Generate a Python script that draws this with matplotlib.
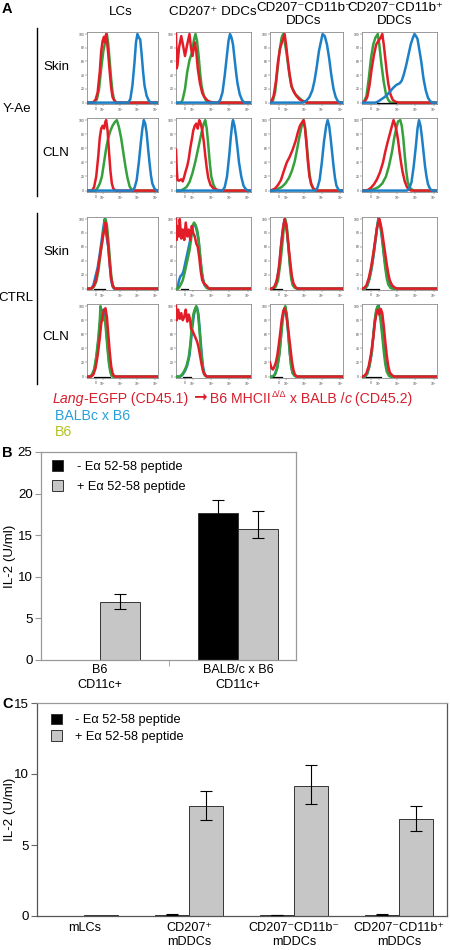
import matplotlib
matplotlib.use('Agg')
import matplotlib.pyplot as plt
from matplotlib.patches import Patch
from matplotlib.text import Annotation

plt.rcParams['font.family'] = ['Liberation Sans', 'DejaVu Sans']
plt.rcParams['mathtext.fontset'] = 'custom'
plt.rcParams['mathtext.rm'] = 'Liberation Sans'
plt.rcParams['mathtext.it'] = 'Liberation Sans:italic'

# ---------------- data: panel A histograms (x in % of axis width, y in % of max) -------------
COLUMN_HEADERS = ["LCs", "CD207\u207a DDCs", "CD207\u207bCD11b\u207b\nDDCs", "CD207\u207bCD11b\u207a\nDDCs"]
ROW_LABELS = ["Skin", "CLN", "Skin", "CLN"]
GROUP_LABELS = ["Y-Ae", "CTRL"]
HIST_XTICKS = [12, 22, 47, 71, 96]
HIST_XTICKLABELS = ["0", r"$10^2$", r"$10^3$", r"$10^4$", r"$10^5$"]
HIST_YTICKS = [0, 20, 40, 60, 80, 100]

YAE_SKIN_LCS = dict(
    green=[(0,0),(10,0),(14,5),(17,20),(20,50),(23,75),(26,90),(28,100),(30,85),(32,60),(34,35),(36,15),(38,5),(41,0),(100,0)],
    red=[(0,0),(8,0),(12,4),(15,15),(18,45),(20,75),(22,90),(24,96),(25,88),(27,100),(28,92),(30,70),(32,45),(34,22),(36,8),(39,2),(42,0),(100,0)],
    blue=[(0,0),(58,0),(61,5),(64,25),(67,60),(69,88),(71,100),(73,95),(75,92),(77,70),(79,45),(81,25),(84,10),(87,3),(90,0),(100,0)])
YAE_SKIN_CD207 = dict(
    green=[(0,0),(7,0),(9,5),(12,20),(15,45),(18,62),(21,72),(24,92),(26,100),(28,90),(30,70),(32,45),(34,25),(37,10),(40,3),(44,0),(100,0)],
    red=[(0,100),(1,50),(2,55),(4,80),(7,97),(10,80),(12,68),(15,85),(18,100),(20,80),(22,68),(25,88),(27,75),(29,50),(32,28),(35,14),(38,8),(42,3),(46,1),(50,0),(100,0)],
    blue=[(0,0),(56,0),(59,4),(62,15),(65,40),(68,70),(70,90),(72,100),(74,95),(76,85),(78,65),(80,45),(82,28),(85,12),(88,4),(91,0),(100,0)])
YAE_SKIN_DN = dict(
    green=[(0,0),(4,3),(7,15),(10,45),(13,75),(16,95),(18,100),(20,90),(23,70),(26,45),(29,25),(32,18),(35,12),(39,8),(43,4),(48,1),(52,0),(100,0)],
    red=[(0,0),(2,2),(5,10),(8,30),(11,60),(14,80),(17,90),(20,100),(22,85),(24,65),(27,40),(30,22),(33,15),(36,10),(40,5),(45,2),(50,0),(100,0)],
    blue=[(0,0),(45,0),(50,3),(54,8),(58,18),(61,32),(64,52),(67,75),(70,90),(72,100),(75,97),(78,85),(81,65),(84,40),(87,20),(90,8),(93,2),(96,0),(100,0)])
YAE_SKIN_DP = dict(
    green=[(0,0),(3,2),(6,10),(9,35),(12,65),(15,85),(18,95),(21,100),(23,85),(26,55),(29,30),(32,12),(35,4),(38,0),(100,0)],
    red=[(0,0),(4,2),(7,8),(10,25),(13,50),(16,70),(19,85),(22,90),(25,95),(27,100),(29,85),(31,65),(33,45),(35,28),(38,12),(41,4),(45,1),(50,0),(100,0)],
    blue=[(0,0),(18,0),(22,2),(26,5),(30,8),(34,12),(38,17),(42,22),(46,26),(50,28),(53,32),(56,42),(59,55),(62,70),(65,85),(68,95),(70,100),(72,97),(74,93),(76,80),(79,60),(82,35),(85,18),(88,7),(91,2),(94,0),(100,0)],
    black=[(20,0),(45,0)])

YAE_CLN_LCS = dict(
    green=[(0,0),(12,0),(15,4),(18,10),(21,20),(24,40),(27,60),(30,75),(33,85),(36,92),(39,97),(42,100),(45,90),(48,75),(51,55),(54,35),(57,18),(60,6),(63,1),(66,0),(100,0)],
    red=[(0,0),(7,0),(10,5),(13,20),(16,50),(18,75),(20,88),(22,92),(24,88),(26,98),(27,100),(29,85),(31,55),(33,28),(35,10),(37,3),(40,0),(100,0)],
    blue=[(0,0),(64,0),(67,4),(70,15),(73,40),(76,70),(78,88),(80,100),(82,95),(84,82),(86,60),(88,40),(90,22),(92,10),(95,3),(98,0),(100,0)])
YAE_CLN_CD207 = dict(
    green=[(0,0),(6,0),(10,2),(14,5),(18,12),(22,25),(26,42),(30,62),(34,82),(37,95),(39,100),(41,88),(43,65),(45,40),(47,20),(50,8),(53,2),(56,0),(100,0)],
    red=[(0,58),(1,30),(2,15),(4,14),(7,16),(9,13),(11,20),(13,28),(15,35),(17,45),(19,60),(21,72),(23,85),(25,92),(27,95),(29,88),(31,100),(33,95),(35,85),(37,70),(39,50),(41,32),(43,18),(46,8),(50,3),(55,1),(60,0),(100,0)],
    blue=[(0,0),(62,0),(65,5),(68,20),(71,50),(73,75),(75,95),(76,100),(78,92),(80,78),(82,60),(84,40),(87,20),(90,7),(93,2),(96,0),(100,0)])
YAE_CLN_DN = dict(
    green=[(0,0),(5,0),(10,2),(16,5),(21,10),(26,18),(30,28),(34,42),(37,58),(40,75),(43,90),(46,100),(48,90),(50,70),(52,45),(54,25),(56,10),(59,3),(62,0),(100,0)],
    red=[(0,0),(3,1),(7,3),(11,8),(15,15),(19,28),(23,40),(27,48),(31,58),(35,70),(38,82),(41,92),(44,97),(46,100),(48,88),(50,65),(52,40),(54,20),(57,8),(60,2),(64,0),(100,0)],
    blue=[(0,0),(62,0),(65,4),(68,15),(71,40),(74,70),(77,92),(79,100),(81,92),(83,75),(85,55),(87,35),(89,18),(91,7),(94,1),(97,0),(100,0)])
YAE_CLN_DP = dict(
    green=[(0,0),(10,0),(16,2),(22,5),(27,10),(32,20),(36,35),(40,55),(43,75),(46,90),(48,98),(51,100),(53,92),(55,75),(57,50),(59,28),(61,12),(64,4),(67,1),(70,0),(100,0)],
    red=[(0,0),(4,0),(8,1),(12,4),(16,9),(20,16),(24,26),(28,40),(31,55),(34,68),(37,80),(40,92),(42,100),(44,94),(46,85),(48,72),(50,55),(52,40),(54,27),(57,13),(60,5),(63,1),(66,0),(100,0)],
    blue=[(0,0),(60,0),(63,3),(66,12),(69,35),(72,65),(74,88),(76,100),(78,92),(80,75),(82,55),(84,35),(86,20),(88,9),(91,2),(94,0),(100,0)])

CTRL_SKIN_LCS = dict(
    blue=[(0,0),(6,0),(9,5),(12,18),(15,30),(18,50),(21,72),(23,88),(25,100),(27,80),(28,72),(30,60),(32,35),(34,12),(36,3),(38,0),(100,0)],
    green=[(0,0),(7,0),(10,3),(13,10),(16,25),(19,50),(22,72),(24,88),(26,100),(28,92),(30,70),(32,45),(34,20),(36,6),(38,1),(40,0),(100,0)],
    red=[(0,0),(6,0),(9,3),(12,10),(15,25),(18,45),(21,65),(23,78),(25,88),(26,95),(27,90),(28,80),(30,60),(32,35),(34,15),(36,5),(38,1),(40,0),(100,0)],
    black=[(10,0),(25,0)])
CTRL_SKIN_CD207 = dict(
    blue=[(0,0),(2,0),(4,12),(6,18),(8,20),(10,25),(12,35),(14,45),(16,55),(18,65),(20,75),(22,88),(24,92),(26,90),(28,82),(30,70),(32,48),(34,25),(36,12),(38,5),(41,1),(44,0),(100,0)],
    green=[(0,0),(3,0),(6,5),(9,12),(12,25),(15,40),(18,55),(20,70),(22,90),(24,95),(26,92),(28,85),(30,72),(32,50),(34,28),(36,14),(38,6),(41,1),(44,0),(100,0)],
    red=[(0,100),(1,70),(2,90),(4,75),(5,100),(7,72),(9,85),(11,70),(13,95),(15,75),(17,85),(19,70),(21,90),(23,80),(25,75),(27,65),(29,60),(31,45),(33,25),(35,12),(37,8),(39,6),(41,4),(43,1),(45,0),(100,0)],
    black=[(6,0),(16,0)])
CTRL_SKIN_DN = dict(
    blue=[(0,0),(4,0),(7,4),(10,15),(13,35),(15,60),(17,80),(19,95),(21,98),(23,85),(25,62),(27,40),(29,20),(31,8),(34,2),(37,0),(100,0)],
    green=[(0,0),(5,0),(8,3),(11,12),(14,35),(17,65),(19,88),(21,100),(23,90),(25,65),(27,35),(29,15),(31,5),(34,1),(37,0),(100,0)],
    red=[(0,0),(3,0),(6,3),(9,10),(12,28),(14,50),(16,70),(18,88),(20,100),(22,92),(24,75),(26,55),(28,35),(30,18),(32,8),(35,2),(38,0),(100,0)],
    black=[(4,0),(16,0)])
CTRL_SKIN_DP = dict(
    blue=[(0,0),(4,0),(7,4),(10,14),(13,30),(16,52),(19,78),(21,95),(22,102),(24,92),(26,78),(28,60),(30,42),(32,28),(34,15),(36,8),(39,2),(42,0),(100,0)],
    green=[(0,0),(4,0),(7,5),(10,15),(13,32),(16,55),(19,80),(21,95),(23,100),(25,90),(27,72),(29,50),(31,30),(33,15),(35,6),(38,1),(40,0),(100,0)],
    red=[(0,0),(3,1),(6,5),(9,15),(12,30),(15,50),(18,72),(20,88),(22,95),(23,100),(25,92),(27,80),(29,65),(31,50),(33,35),(35,22),(37,12),(40,5),(43,2),(47,0),(100,0)],
    black=[(5,0),(23,0)])

CTRL_CLN_LCS = dict(
    blue=[(0,0),(5,0),(8,3),(11,12),(14,32),(17,60),(19,85),(21,95),(23,88),(25,90),(27,70),(29,45),(31,22),(33,8),(35,2),(37,0),(100,0)],
    green=[(0,0),(4,0),(7,3),(10,10),(13,28),(16,55),(18,80),(19,100),(21,88),(23,80),(25,85),(27,62),(29,38),(31,18),(33,6),(35,1),(37,0),(100,0)],
    red=[(0,0),(6,0),(9,3),(12,12),(15,30),(18,55),(20,75),(22,85),(24,95),(26,97),(28,85),(30,60),(32,35),(34,15),(36,5),(38,1),(40,0),(100,0)],
    black=[(10,0),(32,0)])
CTRL_CLN_CD207 = dict(
    blue=[(0,0),(6,0),(9,3),(12,8),(15,16),(18,30),(20,50),(22,72),(24,88),(26,97),(28,98),(30,88),(32,62),(34,35),(36,14),(38,4),(40,1),(42,0),(100,0)],
    green=[(0,0),(5,0),(8,3),(11,8),(14,15),(17,28),(19,45),(21,70),(23,88),(25,95),(27,100),(29,92),(31,70),(33,42),(35,18),(37,5),(39,1),(41,0),(100,0)],
    red=[(0,100),(1,80),(3,95),(5,82),(7,90),(9,80),(11,85),(13,95),(15,78),(17,88),(19,80),(20,68),(22,65),(24,60),(26,55),(28,50),(30,42),(32,30),(34,18),(36,8),(38,3),(41,0),(100,0)],
    black=[(9,0),(20,0)])
CTRL_CLN_DN = dict(
    blue=[(0,0),(4,0),(7,4),(10,14),(13,35),(15,58),(17,80),(19,93),(21,96),(23,85),(25,60),(27,35),(29,15),(31,5),(34,1),(36,0),(100,0)],
    green=[(0,0),(4,0),(7,3),(10,12),(13,32),(15,55),(17,78),(19,95),(21,100),(23,88),(25,62),(27,35),(29,15),(31,5),(34,1),(36,0),(100,0)],
    red=[(0,20),(2,12),(4,10),(6,14),(8,20),(10,30),(12,45),(14,62),(16,80),(18,92),(20,97),(22,90),(24,75),(26,58),(28,40),(30,22),(32,10),(34,3),(37,0),(100,0)],
    black=[(4,0),(16,0)])
CTRL_CLN_DP = dict(
    blue=[(0,0),(4,0),(7,4),(10,15),(13,34),(15,56),(17,78),(19,92),(21,99),(22,102),(24,90),(26,75),(28,55),(30,35),(32,18),(34,7),(37,1),(39,0),(100,0)],
    green=[(0,0),(4,0),(7,5),(10,16),(13,35),(15,58),(17,80),(19,95),(21,100),(23,92),(25,78),(27,58),(29,36),(31,18),(33,7),(36,1),(38,0),(100,0)],
    red=[(0,0),(3,1),(6,5),(9,15),(12,32),(15,55),(17,75),(19,88),(21,95),(23,88),(25,96),(27,90),(29,72),(31,50),(33,30),(35,15),(37,6),(40,2),(43,0),(100,0)],
    black=[(5,0),(25,0)])

HIST_GRID = [
    [YAE_SKIN_LCS, YAE_SKIN_CD207, YAE_SKIN_DN, YAE_SKIN_DP],
    [YAE_CLN_LCS, YAE_CLN_CD207, YAE_CLN_DN, YAE_CLN_DP],
    [CTRL_SKIN_LCS, CTRL_SKIN_CD207, CTRL_SKIN_DN, CTRL_SKIN_DP],
    [CTRL_CLN_LCS, CTRL_CLN_CD207, CTRL_CLN_DN, CTRL_CLN_DP],
]

# ---------------- data: panel B ----------------
B_CATEGORIES = ["B6\nCD11c+", "BALB/c x B6\nCD11c+"]
B_MINUS = [0.05, 17.7]
B_MINUS_ERR_LO = [0.0, 1.5]
B_MINUS_ERR_HI = [0.0, 1.5]
B_PLUS = [6.94, 15.7]
B_PLUS_ERR_LO = [0.85, 1.07]
B_PLUS_ERR_HI = [1.04, 2.19]
B_YTICKS = [0, 5, 10, 15, 20, 25]

# ---------------- data: panel C ----------------
C_CATEGORIES = ["mLCs", "CD207\u207a\nmDDCs", "CD207\u207bCD11b\u207b\nmDDCs", "CD207\u207bCD11b\u207a\nmDDCs"]
C_MINUS = [0.0, 0.06, 0.05, 0.06]
C_MINUS_ERR = [0.0, 0.1, 0.03, 0.1]
C_PLUS = [0.07, 7.78, 9.17, 6.85]
C_PLUS_ERR_LO = [0.0, 1.04, 1.28, 0.83]
C_PLUS_ERR_HI = [0.0, 1.04, 1.43, 0.9]
C_YTICKS = [0, 5, 10, 15]

LEGEND_LABELS = ["- E\u03b1 52-58 peptide", "+ E\u03b1 52-58 peptide"]

# ---------------- styling ----------------
W, H = 450, 950
RED = '#e31d28'
GREEN = '#36a03c'
BLUE = '#1d7fc6'
GRAY_BAR = '#c6c6c6'
LBL = 9.6    # main label size
TCK = 9.6    # bar-chart tick size
CAT = 9.1    # category label size
LEG = 9.2    # legend size

fig = plt.figure(figsize=(W / 100, H / 100), dpi=100)


def px_axes(l, t, r, b):
    return fig.add_axes([l / W, 1 - b / H, (r - l) / W, (b - t) / H])


def ftext(x, y, s, **kw):
    return fig.text(x / W, 1 - y / H, s, **kw)


def chain(prev, s, dy=0.0, **kw):
    a = Annotation(s, xy=(1, 0), xycoords=prev, xytext=(0, dy), textcoords='offset points',
                   ha='left', va='bottom', **kw)
    fig.add_artist(a)
    return a


# ---------------- Panel A ----------------
col_l = [87, 176, 270, 362]
col_r = [158, 251, 343, 437]
row_t = [32, 118, 217, 304]
row_b = [104, 192, 290, 378]
colors = {'red': RED, 'green': GREEN, 'blue': BLUE}

for ri in range(4):
    ctrl = ri >= 2
    order = ['blue', 'green', 'red'] if ctrl else ['green', 'red', 'blue']
    for ci in range(4):
        ax = px_axes(col_l[ci], row_t[ri], col_r[ci], row_b[ri])
        data = HIST_GRID[ri][ci]
        for z, key in enumerate(order):
            xs = [p[0] for p in data[key]]
            ys = [p[1] for p in data[key]]
            ax.plot(xs, ys, color=colors[key], lw=1.8, zorder=2 + z, solid_joinstyle='round')
        if 'black' in data:
            xs = [p[0] for p in data['black']]
            ys = [p[1] for p in data['black']]
            ax.plot(xs, ys, color='black', lw=0.9, zorder=10)
        ax.set_xlim(0, 100)
        ax.set_ylim(-2, 103)
        ax.set_xticks(HIST_XTICKS)
        ax.set_xticklabels(HIST_XTICKLABELS)
        ax.set_yticks(HIST_YTICKS)
        ax.set_yticklabels([str(v) for v in HIST_YTICKS])
        ax.tick_params(labelsize=2.4, length=1.2, width=0.3, pad=0.8, colors='#444')
        for s in ax.spines.values():
            s.set_color('#8a8a8a')
            s.set_linewidth(0.6)

# column headers
ftext(121, 12, COLUMN_HEADERS[0], ha='center', va='center', fontsize=LBL)
ftext(213, 12, COLUMN_HEADERS[1], ha='center', va='center', fontsize=LBL)
ftext(304, 14.5, COLUMN_HEADERS[2], ha='center', va='center', fontsize=LBL, linespacing=1.15)
ftext(395, 14.5, COLUMN_HEADERS[3], ha='center', va='center', fontsize=LBL, linespacing=1.15)

# row labels
for y, lab in zip([67, 153, 252, 337], ROW_LABELS):
    ftext(56, y, lab, ha='center', va='center', fontsize=LBL)
ftext(17, 109, GROUP_LABELS[0], ha='center', va='center', fontsize=LBL)
ftext(16, 298, GROUP_LABELS[1], ha='center', va='center', fontsize=LBL)
fig.add_artist(plt.Line2D([37 / W, 37 / W], [1 - 28 / H, 1 - 196 / H], color='black', lw=1.0))
fig.add_artist(plt.Line2D([37 / W, 37 / W], [1 - 213 / H, 1 - 384 / H], color='black', lw=1.0))

ftext(2, 9, "A", ha='left', va='center', fontsize=10.5, fontweight='bold')

# legend text for A (chained pieces)
LEG_RED = '#d81e2c'
FS = 10.2
t0 = ftext(53, 406, "Lang", ha='left', va='bottom', fontsize=FS, color=LEG_RED, style='italic')
t1 = chain(t0, "-EGFP (CD45.1) ", fontsize=FS, color=LEG_RED)
t2 = chain(t1, "\u279e", dy=-0.5, fontsize=12, color=LEG_RED, family='DejaVu Sans')
t3 = chain(t2, " B6 MHCII", dy=0.5, fontsize=FS, color=LEG_RED)
t4 = chain(t3, "\u0394/\u0394", dy=5.0, fontsize=6.5, color=LEG_RED)
t5 = chain(t4, " x BALB /", dy=-5.0, fontsize=FS, color=LEG_RED)
t6 = chain(t5, "c", fontsize=FS, color=LEG_RED, style='italic')
t7 = chain(t6, " (CD45.2)", fontsize=FS, color=LEG_RED)
ftext(55, 416, "BALBc x B6", ha='left', va='center', fontsize=FS, color='#2aa0da')
ftext(55, 432, "B6", ha='left', va='center', fontsize=FS, color='#b3c220')

# ---------------- Panel B ----------------
axb = px_axes(41, 452, 296, 660)
wb = 0.29
xb = list(range(len(B_CATEGORIES)))
axb.bar([x - wb for x in xb], B_MINUS, wb, align='edge', color='black', edgecolor='#333', lw=0.7, zorder=2)
axb.bar(xb, B_PLUS, wb, align='edge', color=GRAY_BAR, edgecolor='#333', lw=0.7, zorder=2)
for i, x in enumerate(xb):
    if B_MINUS_ERR_HI[i] > 0:
        axb.errorbar(x - wb / 2, B_MINUS[i], yerr=[[B_MINUS_ERR_LO[i]], [B_MINUS_ERR_HI[i]]], fmt='none',
                     ecolor='black', elinewidth=0.8, capsize=4, capthick=0.8, zorder=3)
    if B_PLUS_ERR_HI[i] > 0:
        axb.errorbar(x + wb / 2, B_PLUS[i], yerr=[[B_PLUS_ERR_LO[i]], [B_PLUS_ERR_HI[i]]], fmt='none',
                     ecolor='black', elinewidth=0.8, capsize=4, capthick=0.8, zorder=3)
axb.set_xlim(-0.4275, 1.42)
axb.set_ylim(0, 25)
axb.set_yticks(B_YTICKS)
axb.set_xticks(xb)
axb.set_xticklabels(B_CATEGORIES, linespacing=1.3)
axb.set_xticks([0.5], minor=True)
axb.tick_params(axis='x', which='major', length=0, labelsize=CAT, pad=3)
axb.tick_params(axis='x', which='minor', length=4, color='#999')
axb.tick_params(axis='y', length=4, color='#999', labelsize=TCK, pad=2)
for s in axb.spines.values():
    s.set_color('#999')
    s.set_linewidth(0.9)
axb.set_ylabel("IL-2 (U/ml)", fontsize=TCK)
axb.yaxis.set_label_coords(-0.098, 0.5)
handles = [Patch(facecolor='black', edgecolor='#333', lw=0.7), Patch(facecolor=GRAY_BAR, edgecolor='#333', lw=0.7)]
axb.legend(handles, LEGEND_LABELS, loc='upper left', bbox_to_anchor=(0.043, 0.96), frameon=False,
           fontsize=LEG, handlelength=0.9, handleheight=0.9, handletextpad=1.05, labelspacing=0.55,
           borderpad=0, borderaxespad=0)
ftext(2, 453, "B", ha='left', va='center', fontsize=10.5, fontweight='bold')

# ---------------- Panel C ----------------
axc = px_axes(37, 703, 447, 916)
wc = 0.324
xc = list(range(len(C_CATEGORIES)))
axc.bar([x - wc for x in xc], C_MINUS, wc, align='edge', color='black', edgecolor='#333', lw=0.7, zorder=2)
axc.bar(xc, C_PLUS, wc, align='edge', color=GRAY_BAR, edgecolor='#333', lw=0.7, zorder=2)
for i, x in enumerate(xc):
    if C_MINUS_ERR[i] > 0:
        axc.errorbar(x - wc / 2, C_MINUS[i], yerr=[[0], [C_MINUS_ERR[i]]], fmt='none',
                     ecolor='black', elinewidth=0.8, capsize=4, capthick=0.8, zorder=3)
    if C_PLUS_ERR_HI[i] > 0:
        axc.errorbar(x + wc / 2, C_PLUS[i], yerr=[[C_PLUS_ERR_LO[i]], [C_PLUS_ERR_HI[i]]], fmt='none',
                     ecolor='black', elinewidth=0.8, capsize=4, capthick=0.8, zorder=3)
axc.set_xlim(-0.453, 3.459)
axc.set_ylim(0, 15)
axc.set_yticks(C_YTICKS)
axc.set_xticks(xc)
axc.set_xticklabels(C_CATEGORIES, linespacing=1.3)
axc.tick_params(axis='x', length=0, labelsize=CAT, pad=4)
axc.tick_params(axis='y', length=4, color='#666', labelsize=TCK, pad=2)
for s in axc.spines.values():
    s.set_color('#555')
    s.set_linewidth(0.9)
axc.spines['top'].set_color('#999')
axc.set_ylabel("IL-2 (U/ml)", fontsize=TCK)
axc.yaxis.set_label_coords(-0.052, 0.5)
axc.legend(handles, LEGEND_LABELS, loc='upper left', bbox_to_anchor=(0.034, 0.95), frameon=False,
           fontsize=LEG, handlelength=0.9, handleheight=0.9, handletextpad=0.95, labelspacing=0.32,
           borderpad=0, borderaxespad=0)
ftext(2, 704, "C", ha='left', va='center', fontsize=10.5, fontweight='bold')

fig.savefig('out.png', dpi=100)
